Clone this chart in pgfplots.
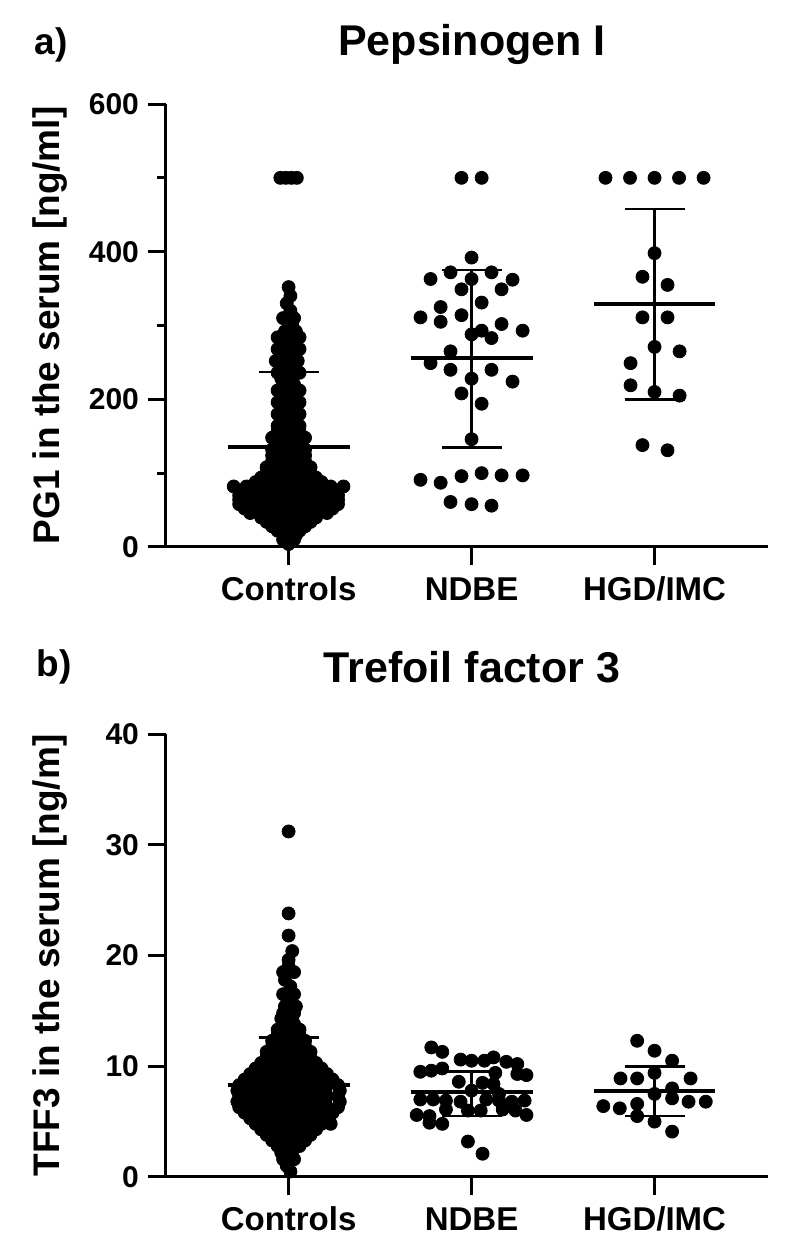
\documentclass[border=0pt]{standalone}
\usepackage{fontspec}
\setmainfont{Liberation Sans}
\usepackage{pgfplots}
\pgfplotsset{compat=1.18}
\pgfplotsset{
  prism/.style={
    scale only axis, width=301pt, height=221.5pt,
    xmin=0.33, xmax=3.62,
    axis x line=bottom, axis y line=left,
    axis line style={line width=1.5pt,-},
    tick align=outside,
    major tick length=9pt, minor tick length=4.5pt,
    every tick/.style={line width=1.5pt, black},
    xtick={1,2,3}, xticklabels={Controls,NDBE,HGD/IMC},
    xticklabel style={font=\fontsize{16.5}{18}\selectfont\bfseries,
      text height=12pt, text depth=3pt, yshift=-2pt},
    yticklabel style={font=\fontsize{15}{17}\selectfont\bfseries, xshift=-1pt},
    /pgf/number format/assume math mode=true,
    every axis y label/.style={at={(axis description cs:-0.193,0.5)}, rotate=90,
      anchor=center, font=\fontsize{18.5}{20}\selectfont\bfseries},
    clip=false,
  },
  dots/.style={only marks, mark=*, mark size=3.25pt, black,
    mark options={draw=black, fill=black}},
  meanl/.style={black, line width=2pt, no marks},
  sdl/.style={black, line width=1.3pt, no marks},
}
\begin{document}
\begin{tikzpicture}[x=1pt,y=1pt]
\useasboundingbox (0,0) rectangle (400,625);

% ---------- a) Pepsinogen I
\node[font=\fontsize{21.5}{24}\selectfont\bfseries] at (236,603) {Pepsinogen I};
\node[font=\fontsize{18.5}{20}\selectfont\bfseries] at (25.5,602.5) {a)};
\begin{axis}[prism, at={(83pt,351.5pt)}, anchor=south west,
  ymin=0, ymax=600, ytick={0,200,400,600}, minor y tick num=1,
  ylabel={PG1 in the serum [ng/ml]}]
% Controls
\addplot[dots] coordinates {
(1,4)
(0.97,10)(1.03,10)
(0.98,16)(1.04,16)
(0.94,22)(1,22)(1.06,22)
(0.91,28)(0.97,28)(1.03,28)(1.09,28)
(0.88,34)(0.94,34)(1,34)(1.06,34)(1.12,34)
(0.85,40)(0.91,40)(0.97,40)(1.03,40)(1.09,40)(1.15,40)
(0.79,46)(0.85,46)(0.91,46)(0.97,46)(1.03,46)(1.09,46)(1.15,46)(1.21,46)
(0.76,52)(0.82,52)(0.88,52)(0.94,52)(1,52)(1.06,52)(1.12,52)(1.18,52)(1.24,52)
(0.73,58)(0.79,58)(0.85,58)(0.91,58)(0.97,58)(1.03,58)(1.09,58)(1.15,58)(1.21,58)(1.27,58)
(0.73,64)(0.79,64)(0.85,64)(0.91,64)(0.97,64)(1.03,64)(1.09,64)(1.15,64)(1.21,64)(1.27,64)
(0.73,70)(0.79,70)(0.85,70)(0.91,70)(0.97,70)(1.03,70)(1.09,70)(1.15,70)(1.21,70)(1.27,70)
(0.76,76)(0.82,76)(0.88,76)(0.94,76)(1,76)(1.06,76)(1.12,76)(1.18,76)(1.24,76)
(0.70,82)(0.77,82)(0.84,82)(0.91,82)(0.97,82)(1.03,82)(1.09,82)(1.16,82)(1.23,82)(1.30,82)
(0.82,88)(0.88,88)(0.94,88)(1,88)(1.06,88)(1.12,88)(1.18,88)
(0.85,94)(0.91,94)(0.97,94)(1.03,94)(1.09,94)(1.15,94)
(0.88,100)(0.94,100)(1,100)(1.06,100)(1.12,100)
(0.88,108)(0.94,108)(1,108)(1.06,108)(1.12,108)
(0.91,116)(0.97,116)(1.03,116)(1.09,116)
(0.91,124)(0.97,124)(1.03,124)(1.09,124)
(0.91,132)(0.97,132)(1.03,132)(1.09,132)
(0.94,140)(1,140)(1.06,140)
(0.91,148)(0.97,148)(1.03,148)(1.09,148)
(0.94,156)(1,156)(1.06,156)
(0.94,164)(1,164)(1.06,164)
(0.97,172)(1.03,172)
(0.94,180)(1,180)(1.06,180)
(0.97,188)(1.03,188)
(0.94,196)(1,196)(1.06,196)
(0.97,204)(1.03,204)
(0.94,212)(1,212)(1.06,212)
(0.97,220)(1.03,220)
(0.96,228)(1.02,228)
(0.94,236)(1,236)(1.06,236)
(0.97,244)(1.03,244)
(0.93,252)(0.99,252)(1.05,252)
(0.97,260)(1.03,260)
(0.94,268)(1,268)(1.06,268)
(0.97,276)(1.03,276)
(0.94,284)(1,284)(1.06,284)
(0.98,292)(1.04,292)
(1.02,300)
(0.97,310)(1.03,310)
(1.01,320)(0.99,330)(1.01,340)(1,352)
(0.955,500)(0.985,500)(1.015,500)(1.045,500)
};
% NDBE
\addplot[dots] coordinates {
(1.945,500)(2.055,500)
(2,392)(1.776,363)(1.885,372)(2,363)(2.109,372)(2.224,362)
(1.945,349)(2.164,349)(1.831,325)(2.055,331)
(1.721,311)(1.831,305)(1.945,314)(2.164,302)
(2,288)(2.055,293)(2.109,283)(2.279,293)
(1.885,265)(1.776,249)(1.885,240)(2.109,240)
(2,228)(2.224,224)(1.945,208)(2.055,194)(2,146)
(1.721,91)(1.831,87)(1.945,96)(2.055,100)(2.164,97)(2.279,97)
(1.885,61)(2,58)(2.109,56)
};
% HGD/IMC
\addplot[dots] coordinates {
(2.732,500)(2.866,500)(3,500)(3.134,500)(3.268,500)
(3,398)(2.934,366)(3.071,355)(2.934,311)(3.071,311)
(3,271)(3.137,265)(2.869,249)(2.869,219)(3,210)(3.137,205)
(2.934,138)(3.071,131)
};
% means and SD
\addplot[meanl] coordinates {(0.667,135)(1.333,135)};
\addplot[sdl] coordinates {(1,33)(1,237)};
\addplot[sdl] coordinates {(0.836,237)(1.164,237)};
\addplot[sdl] coordinates {(0.836,33)(1.164,33)};
\addplot[meanl] coordinates {(1.667,256)(2.333,256)};
\addplot[sdl] coordinates {(2,135)(2,375)};
\addplot[sdl] coordinates {(1.836,375)(2.164,375)};
\addplot[sdl] coordinates {(1.836,135)(2.164,135)};
\addplot[meanl] coordinates {(2.667,329)(3.333,329)};
\addplot[sdl] coordinates {(3,200)(3,458)};
\addplot[sdl] coordinates {(2.836,458)(3.164,458)};
\addplot[sdl] coordinates {(2.836,200)(3.164,200)};
\end{axis}

% ---------- b) Trefoil factor 3
\node[font=\fontsize{21.5}{24}\selectfont\bfseries] at (236,291.5) {Trefoil factor 3};
\node[font=\fontsize{18.5}{20}\selectfont\bfseries] at (27,291.5) {b)};
\begin{axis}[prism, at={(83pt,36.5pt)}, anchor=south west,
  ymin=0, ymax=40, ytick={0,10,20,30,40},
  ylabel={TFF3 in the serum [ng/m]}]
% Controls
\addplot[dots] coordinates {
(1.01,0.5)(0.99,1.0)
(0.97,1.6)(1.03,1.6)
(0.96,2.2)(1.02,2.2)
(0.94,2.8)(1,2.8)(1.06,2.8)
(0.91,3.3)(0.97,3.3)(1.03,3.3)(1.09,3.3)
(0.88,3.8)(0.94,3.8)(1,3.8)(1.06,3.8)(1.12,3.8)
(0.85,4.3)(0.91,4.3)(0.97,4.3)(1.03,4.3)(1.09,4.3)(1.15,4.3)
(0.82,4.8)(0.88,4.8)(0.94,4.8)(1,4.8)(1.06,4.8)(1.12,4.8)(1.18,4.8)(1.23,4.8)
(0.79,5.3)(0.85,5.3)(0.91,5.3)(0.97,5.3)(1.03,5.3)(1.09,5.3)(1.15,5.3)(1.21,5.3)
(0.76,5.8)(0.82,5.8)(0.88,5.8)(0.94,5.8)(1,5.8)(1.06,5.8)(1.12,5.8)(1.18,5.8)(1.24,5.8)
(0.73,6.3)(0.79,6.3)(0.85,6.3)(0.91,6.3)(0.97,6.3)(1.03,6.3)(1.09,6.3)(1.15,6.3)(1.21,6.3)(1.27,6.3)
(0.72,6.8)(0.78,6.8)(0.84,6.8)(0.90,6.8)(0.96,6.8)(1.02,6.8)(1.08,6.8)(1.14,6.8)(1.20,6.8)(1.28,6.8)
(0.73,7.3)(0.79,7.3)(0.85,7.3)(0.91,7.3)(0.97,7.3)(1.03,7.3)(1.09,7.3)(1.15,7.3)(1.21,7.3)(1.27,7.3)
(0.72,7.8)(0.78,7.8)(0.84,7.8)(0.90,7.8)(0.96,7.8)(1.02,7.8)(1.08,7.8)(1.14,7.8)(1.20,7.8)(1.28,7.8)
(0.73,8.3)(0.79,8.3)(0.85,8.3)(0.91,8.3)(0.97,8.3)(1.03,8.3)(1.09,8.3)(1.15,8.3)(1.21,8.3)(1.27,8.3)
(0.76,8.8)(0.82,8.8)(0.88,8.8)(0.94,8.8)(1,8.8)(1.06,8.8)(1.12,8.8)(1.18,8.8)(1.24,8.8)
(0.79,9.3)(0.85,9.3)(0.91,9.3)(0.97,9.3)(1.03,9.3)(1.09,9.3)(1.15,9.3)(1.21,9.3)
(0.82,9.8)(0.88,9.8)(0.94,9.8)(1,9.8)(1.06,9.8)(1.12,9.8)(1.18,9.8)
(0.85,10.3)(0.91,10.3)(0.97,10.3)(1.03,10.3)(1.09,10.3)(1.15,10.3)
(0.88,10.8)(0.94,10.8)(1,10.8)(1.06,10.8)(1.12,10.8)
(0.88,11.3)(0.94,11.3)(1,11.3)(1.06,11.3)(1.12,11.3)
(0.91,11.8)(0.97,11.8)(1.03,11.8)(1.09,11.8)
(0.91,12.3)(0.97,12.3)(1.03,12.3)(1.09,12.3)
(0.94,12.8)(1,12.8)(1.06,12.8)
(0.94,13.3)(1,13.3)(1.06,13.3)
(0.97,13.8)(1.03,13.8)
(0.96,14.3)(1.02,14.3)
(0.97,14.8)(1.03,14.8)
(0.98,15.4)(1.04,15.4)
(1,16.0)
(0.97,16.5)(1.03,16.5)
(1.01,17.2)(0.98,17.8)
(0.97,18.5)(1.03,18.5)
(1,19.0)(1,19.6)(1.02,20.4)(1,21.8)(1,23.8)(1,31.2)
};
% NDBE
\addplot[dots] coordinates {
(1.78,11.7)(1.84,11.3)(2.12,10.8)(1.94,10.6)(2,10.5)(2.07,10.5)(2.19,10.4)(2.25,10.2)
(1.84,9.8)(1.78,9.6)(1.72,9.5)(2.13,9.4)(2.25,9.3)(2.30,9.2)
(1.93,8.6)(2.06,8.5)(2.12,8.4)(2,7.8)(2.15,7.5)
(1.72,7.0)(1.79,7.0)(1.86,6.9)(1.94,6.8)(2.08,7.0)(2.15,6.9)(2.22,6.8)(2.29,6.9)
(1.86,6.1)(1.98,6.0)(2.05,6.0)(2.17,6.1)(2.24,6.0)
(1.70,5.6)(1.77,5.5)(2.30,5.6)
(1.77,4.9)(1.84,4.8)(1.98,3.2)(2.06,2.1)
};
% HGD/IMC
\addplot[dots] coordinates {
(2.905,12.3)(3,11.4)(3.096,10.5)(3,9.4)
(2.814,8.9)(2.905,8.9)(3.197,8.9)(3.096,8.0)(3,7.5)(3.096,7.1)
(3.186,6.8)(3.28,6.8)(2.72,6.4)(2.81,6.2)(2.905,6.6)(2.905,5.5)(3,5.0)(3.096,4.1)
};
% means and SD
\addplot[meanl] coordinates {(0.667,8.3)(1.333,8.3)};
\addplot[sdl] coordinates {(1,4.0)(1,12.6)};
\addplot[sdl] coordinates {(0.836,12.6)(1.164,12.6)};
\addplot[sdl] coordinates {(0.836,4.0)(1.164,4.0)};
\addplot[meanl] coordinates {(1.667,7.64)(2.333,7.64)};
\addplot[sdl] coordinates {(2,5.5)(2,9.5)};
\addplot[sdl] coordinates {(1.836,9.5)(2.164,9.5)};
\addplot[sdl] coordinates {(1.836,5.5)(2.164,5.5)};
\addplot[meanl] coordinates {(2.667,7.75)(3.333,7.75)};
\addplot[sdl] coordinates {(3,5.5)(3,10.0)};
\addplot[sdl] coordinates {(2.836,10.0)(3.164,10.0)};
\addplot[sdl] coordinates {(2.836,5.5)(3.164,5.5)};
\end{axis}
\end{tikzpicture}
\end{document}
